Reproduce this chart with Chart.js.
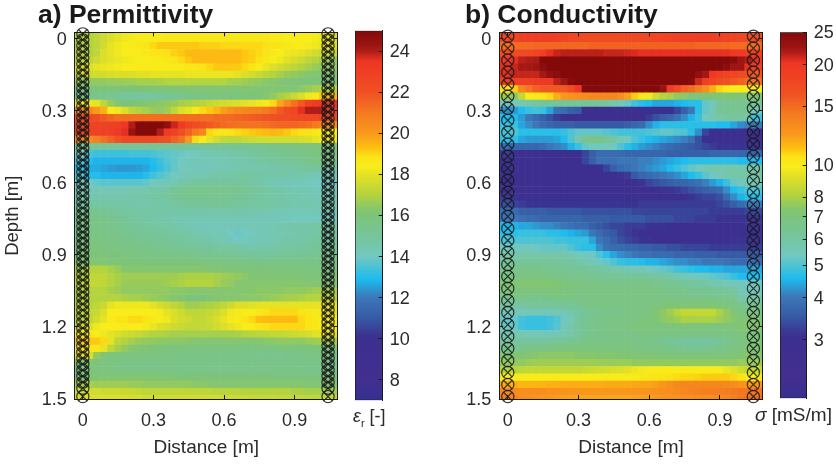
<!DOCTYPE html>
<html>
<head>
<meta charset="utf-8">
<script src="https://cdn.jsdelivr.net/npm/chart.js@4/dist/chart.umd.min.js"></script>
<style>
  html, body { margin: 0; padding: 0; background: #fff; }
  canvas { position: absolute; top: 0; }
  .barLabel { position: absolute; font: 18px "Liberation Sans", sans-serif; color: #2a2a2a; white-space: nowrap; }
  .barLabel sub { font-size: 11px; line-height: 0; }
</style>
</head>
<body>
<canvas id="permPanel" width="345" height="465" style="left:0;width:345px;height:465px"></canvas>
<canvas id="permBar" width="76" height="465" style="left:350px;width:76px;height:465px"></canvas>
<canvas id="condPanel" width="345" height="465" style="left:425px;width:345px;height:465px"></canvas>
<canvas id="condBar" width="61" height="465" style="left:775px;width:61px;height:465px"></canvas>
<div class="barLabel" style="left:353px;top:406px"><i>&epsilon;</i><sub>r</sub> [-]</div>
<div class="barLabel" style="left:755px;top:404px;font-size:19px"><i>&sigma;</i> [mS/m]</div>
<script>
// Cell centres of both sections, in metres. The first entry of each list is the
// partial cell above/left of the 0 line and repeats the values of the next one.
var distances = [-0.03, 0, 0.03, 0.06, 0.09, 0.12, 0.15, 0.18, 0.21, 0.24, 0.27, 0.3, 0.33, 0.36, 0.39, 0.42, 0.45, 0.48, 0.51, 0.54, 0.57, 0.6, 0.63, 0.66, 0.69, 0.72, 0.75, 0.78, 0.81, 0.84, 0.87, 0.9, 0.93, 0.96, 0.99, 1.02, 1.05, 1.08];
var depths = [-0.03, 0, 0.03, 0.06, 0.09, 0.12, 0.15, 0.18, 0.21, 0.24, 0.27, 0.3, 0.33, 0.36, 0.39, 0.42, 0.45, 0.48, 0.51, 0.54, 0.57, 0.6, 0.63, 0.66, 0.69, 0.72, 0.75, 0.78, 0.81, 0.84, 0.87, 0.9, 0.93, 0.96, 0.99, 1.02, 1.05, 1.08, 1.11, 1.14, 1.17, 1.2, 1.23, 1.26, 1.29, 1.32, 1.35, 1.38, 1.41, 1.44, 1.47, 1.5];

// Borehole antenna positions
var boreholeX = [0, 1.042];
var permMarkers = [-0.02, 0.005, 0.03, 0.055, 0.08, 0.105, 0.13, 0.155, 0.18, 0.205, 0.23, 0.255, 0.28, 0.305, 0.33, 0.355, 0.38, 0.405, 0.43, 0.455, 0.48, 0.505, 0.53, 0.555, 0.58, 0.605, 0.63, 0.655, 0.68, 0.705, 0.73, 0.755, 0.78, 0.805, 0.83, 0.855, 0.88, 0.905, 0.93, 0.955, 0.98, 1.005, 1.03, 1.055, 1.08, 1.105, 1.13, 1.155, 1.18, 1.205, 1.23, 1.255, 1.28, 1.305, 1.33, 1.355, 1.38, 1.405, 1.43, 1.455, 1.49];
var condMarkers = [-0.01, 0.04, 0.09, 0.14, 0.19, 0.24, 0.29, 0.34, 0.39, 0.44, 0.49, 0.54, 0.59, 0.64, 0.69, 0.74, 0.79, 0.84, 0.89, 0.94, 0.99, 1.04, 1.09, 1.14, 1.19, 1.24, 1.29, 1.34, 1.39, 1.44, 1.49];

// Tick labels
var distanceTicks = [0, 0.3, 0.6, 0.9];
var depthTicks = [0, 0.3, 0.6, 0.9, 1.2, 1.5];
var permBarTicks = [8, 10, 12, 14, 16, 18, 20, 22, 24];
var condBarTicks = [3, 4, 5, 6, 7, 8, 10, 15, 20, 25];

// Relative permittivity x10, one row per depth, one value per distance
var permRows = [
[170,170,172,175,178,180,182,183,184,184,185,185,186,186,186,186,186,186,186,186,186,186,186,186,186,186,186,185,185,184,184,184,184,183,182,180,178],
[170,170,172,176,180,182,184,185,186,187,190,192,192,192,192,192,192,191,191,191,190,190,190,190,190,190,189,188,187,186,185,184,183,182,181,180,178],
[170,170,172,178,180,182,184,185,185,186,187,188,189,191,192,194,194,194,194,194,194,194,194,192,191,190,188,186,184,182,181,180,178,176,175,174,174],
[172,172,175,178,180,181,182,183,184,184,185,185,186,187,190,192,194,194,194,194,194,194,194,192,191,189,186,184,182,179,177,175,172,170,168,166,165],
[178,178,180,181,182,183,184,184,185,185,185,185,185,185,185,186,186,188,190,192,192,192,192,190,187,184,181,178,176,174,172,170,168,166,165,165,165],
[175,175,176,176,177,178,178,178,179,179,180,180,180,180,180,181,181,181,181,181,181,181,180,178,176,174,172,170,168,166,165,164,163,162,162,161,161],
[165,165,165,165,166,166,167,167,168,168,168,169,170,170,170,170,170,170,170,170,170,168,168,167,166,165,164,163,162,161,160,160,160,160,160,160,160],
[160,160,160,160,160,160,160,160,160,160,161,161,161,161,161,162,162,162,162,162,162,162,162,162,162,162,162,162,162,162,162,164,166,168,170,170,170],
[155,155,154,153,152,150,149,148,148,148,148,149,150,152,153,155,156,156,157,158,158,159,159,160,160,161,163,165,168,170,174,178,182,186,192,195,195],
[182,182,180,172,166,162,160,160,161,162,163,164,165,166,168,169,170,171,173,175,176,177,178,179,180,182,186,190,198,205,212,218,228,232,235,235,235],
[205,205,200,196,185,182,178,172,170,168,166,165,167,172,178,180,183,190,192,195,199,203,205,206,207,208,210,213,218,223,226,236,240,240,240,235,230],
[225,225,222,218,215,213,213,213,213,213,213,213,213,213,213,213,213,213,213,214,214,214,215,216,217,218,219,220,221,222,223,224,225,226,228,226,224],
[228,228,228,228,229,230,234,240,250,250,250,250,246,238,232,226,222,220,218,216,214,213,212,212,212,212,213,214,215,215,215,214,213,210,208,205,205],
[228,228,228,229,230,233,236,243,250,250,250,240,232,228,222,216,210,206,190,187,187,188,190,191,192,193,194,195,194,192,190,189,188,186,185,185,185],
[205,205,208,212,216,220,224,225,225,225,225,222,220,216,212,200,190,184,180,176,173,172,172,174,175,176,176,176,176,176,176,177,178,180,182,182,182],
[152,152,150,150,150,150,150,150,150,150,150,150,150,150,150,150,150,150,151,151,151,152,152,152,153,153,154,155,156,156,157,158,158,158,158,158,158],
[140,135,133,133,133,133,133,134,134,134,135,136,137,138,139,140,141,142,143,144,145,146,147,148,149,150,151,152,153,154,155,156,157,158,158,158,158],
[135,130,128,128,128,128,128,128,128,128,130,133,136,138,140,141,142,142,143,143,144,144,145,145,146,147,148,149,150,151,152,153,154,155,155,155,155],
[130,127,127,126,125,124,124,124,125,126,129,132,135,138,140,141,142,142,142,143,144,144,145,145,145,145,145,146,146,147,148,148,149,150,150,150,150],
[135,130,130,128,128,128,128,128,128,130,134,136,138,140,141,142,143,144,145,146,146,147,147,148,148,147,147,146,146,146,145,145,144,143,143,143,143],
[140,140,138,137,137,137,137,137,137,138,140,141,142,144,146,148,149,149,150,150,150,150,150,149,147,146,145,144,143,142,142,141,141,140,140,140,140],
[143,143,143,143,143,143,144,144,144,145,146,146,148,150,152,153,154,154,154,154,154,154,153,152,150,149,148,147,146,145,144,144,143,142,142,142,142],
[145,145,145,145,145,145,145,146,146,146,147,148,149,151,152,153,153,153,153,153,153,152,151,150,149,148,147,146,146,145,145,144,144,143,143,143,143],
[148,148,148,148,147,147,146,146,145,145,146,146,147,148,149,150,150,150,151,151,151,150,149,149,148,148,147,147,146,146,145,145,145,144,144,144,144],
[152,152,152,151,150,149,148,148,147,147,147,147,147,147,146,146,146,146,146,146,146,146,146,146,145,145,145,144,144,143,143,143,143,143,143,143,143],
[156,156,156,155,154,152,150,149,148,147,146,145,145,144,144,144,144,144,144,144,144,143,143,143,143,142,142,142,141,141,140,140,140,141,141,141,141],
[155,155,155,155,154,153,152,151,150,149,148,148,147,146,145,144,143,142,142,142,142,142,142,142,143,143,144,144,145,145,146,146,147,147,148,148,148],
[156,156,156,155,155,154,153,152,151,151,150,149,149,148,147,146,145,144,144,143,142,140,139,140,141,142,143,144,144,145,145,146,146,147,148,148,148],
[158,158,158,157,157,156,155,155,154,153,152,152,151,150,149,148,147,146,146,145,144,142,140,141,142,143,144,144,145,146,146,147,148,149,150,150,150],
[158,158,158,158,157,157,156,156,155,155,154,153,153,152,152,151,151,150,150,149,148,148,147,146,145,146,146,147,147,148,148,149,149,150,150,150,150],
[160,160,160,160,159,159,158,158,157,157,156,156,156,155,155,155,154,154,153,153,152,152,151,151,150,150,150,150,150,151,151,151,152,152,152,152,152],
[162,162,162,162,161,161,160,160,160,159,159,159,159,159,159,159,159,158,158,158,158,157,157,156,156,156,156,156,156,156,156,156,156,156,156,156,156],
[168,170,170,170,168,166,163,163,163,163,163,163,163,163,163,163,163,163,162,162,161,161,161,160,160,160,160,160,159,159,159,159,158,158,158,158,158],
[170,172,172,172,170,168,167,167,167,167,167,167,167,167,168,169,169,169,169,168,167,166,165,164,162,162,161,161,161,161,161,160,160,160,160,160,160],
[172,173,173,172,170,168,166,166,166,166,166,166,167,168,169,170,170,170,170,168,166,165,163,163,163,163,163,163,163,163,163,163,162,162,162,162,162],
[170,170,170,170,168,167,165,165,165,165,165,165,165,164,164,163,163,163,163,163,163,163,163,163,163,164,164,164,164,165,165,165,166,167,168,168,168],
[170,170,170,170,170,170,169,168,168,167,166,165,164,163,162,160,160,160,161,162,163,163,163,164,164,164,165,166,167,168,168,169,170,170,170,170,170],
[170,170,172,174,180,182,182,182,182,182,180,177,175,172,170,167,167,168,169,170,172,175,178,178,179,180,180,180,180,180,180,180,180,180,180,180,180],
[172,173,174,178,184,184,184,184,184,184,184,183,180,178,175,172,172,172,173,175,178,182,183,184,184,186,188,190,190,190,190,188,186,183,182,180,180],
[172,173,176,180,185,187,188,190,190,188,186,185,182,178,176,175,173,173,175,177,180,183,185,188,190,193,194,194,194,194,194,190,188,186,185,185,185],
[176,178,182,184,184,184,184,184,184,183,181,178,177,175,174,173,173,173,174,176,178,180,182,184,185,187,189,190,190,190,190,190,188,186,185,185,185],
[186,187,185,182,180,178,176,175,174,172,170,170,169,168,168,168,168,168,168,168,168,168,169,170,171,172,172,173,173,174,175,176,177,179,180,180,180],
[192,192,192,190,180,172,170,168,166,165,165,164,164,164,164,163,163,163,163,163,163,163,163,163,163,163,164,164,165,165,165,165,166,167,168,168,168],
[187,187,187,180,172,168,165,163,162,161,160,160,159,159,159,158,158,158,158,158,158,157,157,157,157,157,157,157,158,158,158,159,159,160,160,160,160],
[180,178,165,162,160,160,159,159,158,158,158,158,157,157,157,157,156,156,156,156,156,156,155,155,155,154,154,154,154,155,155,155,156,157,157,157,157],
[162,162,160,158,157,156,156,155,155,155,155,155,155,155,155,155,155,155,155,155,155,155,155,155,155,155,155,155,155,155,155,155,155,155,155,155,155],
[160,160,159,158,158,157,157,157,156,156,156,156,156,156,156,156,156,156,156,156,156,156,156,156,156,156,156,155,155,155,155,155,155,155,155,155,155],
[160,160,161,162,162,162,162,162,162,162,162,162,161,161,160,160,160,160,160,160,160,160,160,160,160,160,160,159,159,159,159,159,159,159,159,159,159],
[168,168,167,167,167,167,167,166,166,165,165,165,165,165,165,165,164,164,163,163,163,163,163,163,163,163,163,163,163,163,163,163,162,162,162,162,162],
[176,176,176,175,175,175,174,174,173,172,172,172,172,172,172,172,172,172,172,171,171,171,171,170,170,170,170,170,170,170,169,169,168,168,168,168,168],
[178,178,178,178,178,178,178,177,177,176,176,176,176,176,176,176,176,176,176,176,175,175,175,175,174,174,174,174,173,173,173,173,172,172,172,172,172]
];

// Conductivity in mS/m x10, same grid
var condRows = [
[175,180,185,190,190,190,190,185,180,175,172,170,170,170,170,170,170,172,174,175,176,178,180,182,184,186,186,188,190,188,186,182,180,175,172,170,170],
[150,150,150,150,152,152,152,152,152,152,152,152,155,155,155,155,155,155,155,155,155,155,155,155,155,155,155,152,152,152,152,152,150,150,150,150,150],
[170,172,174,176,180,190,205,212,215,215,215,215,215,215,212,212,212,210,208,205,205,205,205,205,205,205,205,205,205,205,205,205,200,195,190,188,188],
[200,205,215,218,220,250,250,250,250,250,250,250,250,250,250,250,250,250,250,250,250,250,250,250,250,250,250,250,250,250,250,250,245,225,218,205,200],
[205,212,222,222,225,240,250,250,250,250,250,250,250,250,250,250,250,250,250,250,250,250,250,250,250,250,250,250,250,250,250,240,225,225,205,190,190],
[205,212,212,212,212,222,235,240,250,250,250,250,250,250,250,250,250,250,250,250,250,250,250,250,250,250,250,235,222,200,190,182,180,172,165,160,160],
[190,190,190,190,192,195,200,215,225,245,250,250,250,250,250,250,250,250,250,250,250,250,250,250,250,250,245,210,188,180,170,165,160,155,150,148,148],
[105,110,135,145,155,160,160,160,160,170,200,250,250,250,250,250,250,250,250,250,250,250,230,190,170,155,150,140,130,118,108,102,100,100,100,100,100],
[78,75,85,100,102,103,108,118,125,128,130,132,133,135,135,135,130,122,110,102,97,88,82,80,76,75,72,72,72,72,72,72,72,72,72,72,72],
[55,54,56,58,60,62,62,62,62,62,62,62,62,62,60,58,56,52,49,47,46,44,44,44,45,46,47,47,52,55,62,64,64,64,64,64,64],
[42,43,46,48,49,48,44,39,38,36,35,30,30,30,30,30,30,30,30,30,30,30,30,30,33,36,40,47,52,55,62,64,64,64,64,55,55],
[46,46,43,40,38,36,34,32,30,29,29,29,29,29,29,29,29,29,29,30,32,34,36,37,39,42,45,48,54,56,58,60,60,60,56,48,48],
[48,48,44,42,40,38,37,36,36,36,35,35,35,35,35,35,35,36,37,38,42,45,47,47,47,47,47,47,47,47,46,46,44,42,41,40,40],
[50,50,47,47,47,47,47,47,48,50,52,52,52,52,51,50,49,49,49,49,50,51,52,52,51,50,47,42,33,30,30,30,30,30,30,30,30],
[47,47,44,43,43,43,43,44,46,50,58,64,66,66,64,60,56,54,50,48,46,45,44,43,42,41,39,34,30,29,29,29,29,29,29,29,29],
[38,37,37,37,37,38,40,41,42,45,48,52,54,54,54,54,50,47,45,43,42,41,39,38,37,36,35,34,33,32,31,31,31,31,31,31,31],
[32,31,29,29,29,29,29,29,29,29,30,33,36,38,38,38,38,37,37,37,37,37,37,36,36,36,36,36,36,37,37,37,37,37,37,37,37],
[30,29,29,29,29,29,29,29,29,29,30,33,36,39,39,39,40,40,40,41,41,42,43,44,45,46,47,47,47,47,47,47,47,46,46,46,46],
[31,31,29,29,29,29,29,29,29,29,29,29,29,30,33,36,38,39,40,41,42,43,44,46,48,50,52,54,56,58,58,58,58,58,58,58,58],
[31,30,29,29,29,29,29,29,29,29,29,29,29,29,30,30,31,32,35,37,38,39,40,41,42,44,46,48,51,53,55,57,58,59,59,59,59],
[30,29,29,29,29,29,29,29,29,29,29,29,29,29,29,29,29,29,30,31,33,34,35,36,37,37,38,39,41,43,45,48,52,55,56,56,56],
[30,29,29,29,29,29,29,29,29,29,29,29,29,29,29,29,29,29,29,29,29,30,31,31,32,33,34,35,36,37,38,42,46,48,50,50,50],
[32,31,30,29,29,29,29,29,29,29,29,29,29,29,29,29,29,29,29,29,29,29,29,30,30,30,31,32,33,33,34,38,42,45,47,47,47],
[34,33,32,31,31,31,31,31,31,31,31,31,31,31,31,31,31,31,31,32,32,32,32,32,32,32,32,32,32,32,33,34,36,38,40,40,40],
[38,38,36,36,36,36,35,35,35,35,35,34,34,34,34,34,34,34,33,33,33,33,33,33,33,33,33,33,33,32,32,32,32,32,33,33,33],
[40,40,39,38,38,37,37,37,37,37,37,36,36,36,36,35,35,35,35,35,34,34,34,34,33,33,33,32,32,32,31,31,31,31,31,31,31],
[45,45,44,44,43,42,42,41,40,39,38,38,36,35,34,33,33,32,32,32,31,31,31,30,30,30,30,30,30,30,30,30,30,30,31,31,31],
[47,47,48,48,48,48,47,47,46,45,44,43,40,38,36,35,33,32,31,30,30,29,29,29,29,29,29,29,29,29,29,29,30,30,30,30,30],
[50,50,50,50,50,50,50,49,49,48,48,48,44,40,38,36,34,33,32,31,31,30,30,30,30,30,30,30,30,30,30,30,31,31,31,31,31],
[53,53,53,53,53,52,52,52,52,50,48,47,47,42,39,38,38,37,37,36,36,35,35,34,34,33,33,33,33,32,32,32,32,32,32,32,32],
[58,58,58,58,58,58,58,58,58,56,54,53,53,50,47,44,42,41,40,39,39,38,38,38,37,37,37,36,36,36,35,35,35,35,35,35,35],
[62,62,62,62,62,62,62,61,60,60,59,57,55,53,52,50,48,47,47,46,45,45,44,43,42,42,41,41,40,40,40,39,38,38,38,38,38],
[66,66,66,66,66,65,65,64,64,63,62,62,61,60,59,58,57,56,55,55,54,53,52,51,49,48,47,46,46,45,45,44,44,44,44,44,44],
[68,68,68,68,68,68,67,67,66,65,65,64,64,63,63,63,62,62,62,62,61,60,59,58,56,55,54,54,53,52,51,50,48,46,46,46,46],
[72,72,73,73,73,73,73,72,70,70,69,68,68,68,67,67,66,66,66,66,66,65,65,64,63,62,61,60,59,58,57,56,55,53,53,53,53],
[70,70,70,70,70,70,70,70,69,69,68,68,68,68,68,68,68,68,68,68,68,67,67,66,66,65,64,63,63,62,62,61,60,56,55,55,55],
[65,66,66,66,66,66,66,67,67,67,67,68,68,68,68,68,68,68,68,68,68,68,67,67,67,67,66,66,66,66,65,65,64,58,58,58,58],
[60,60,60,61,61,61,61,62,62,63,64,66,67,67,67,67,67,68,68,68,68,69,71,72,72,72,72,72,72,72,71,70,68,65,64,64,64],
[55,55,55,55,55,55,55,56,56,58,60,62,64,65,66,66,66,67,68,68,69,72,75,78,82,85,85,85,85,85,80,76,72,68,68,68,68],
[52,52,49,48,48,48,49,50,53,56,60,63,65,66,67,67,68,68,69,69,70,72,75,76,78,80,80,80,80,80,78,76,74,72,72,72,72],
[53,52,49,48,48,48,49,51,55,58,61,64,65,66,67,68,68,69,70,70,70,70,70,70,70,70,70,70,70,70,70,70,71,73,73,73,73],
[57,57,56,56,55,55,55,55,56,58,61,64,65,66,66,66,67,67,68,68,68,68,68,68,68,68,68,68,68,68,68,68,69,70,70,70,70],
[60,60,60,60,60,61,61,62,63,64,65,67,67,67,67,67,67,67,67,66,66,65,64,62,61,60,60,60,60,60,62,64,66,68,70,70,70],
[65,65,66,67,68,68,69,70,70,70,70,70,70,70,70,70,70,70,69,69,68,68,67,66,65,65,64,64,64,65,66,67,68,70,72,72,72],
[72,72,72,73,74,75,75,75,75,75,74,74,74,73,73,73,72,72,72,72,72,71,71,70,70,70,70,70,70,70,70,70,71,72,74,74,74],
[76,76,76,77,78,78,78,78,78,78,78,78,78,77,77,77,77,77,76,76,76,76,76,76,76,76,76,76,76,76,76,76,76,77,77,77,77],
[82,82,84,85,85,85,85,85,85,85,85,86,87,88,89,90,91,93,95,97,98,100,100,100,100,100,100,100,100,100,98,95,92,88,85,85,85],
[100,100,100,100,100,100,100,100,100,100,100,100,100,100,100,100,100,101,101,102,103,104,105,106,107,108,108,109,110,110,110,110,108,105,100,100,100],
[120,118,115,115,116,116,117,117,118,118,118,118,118,118,119,119,119,119,120,120,120,122,126,130,133,135,135,135,135,135,135,134,132,128,125,125,125],
[135,134,130,130,130,130,128,128,127,126,125,125,125,125,125,125,125,125,126,126,127,128,129,130,132,134,136,138,140,140,140,141,142,144,145,145,145],
[140,138,132,130,128,126,125,123,122,121,120,120,120,120,120,120,120,120,121,122,123,125,127,128,128,130,130,130,131,132,134,136,140,145,150,150,150]
];

// ---------- Color scale ----------
// position along the colour bar (0 bottom, 1 top) and colour
var cmapPos = [0, 0.056, 0.167, 0.189, 0.222, 0.278, 0.328, 0.389, 0.444, 0.5, 0.517, 0.556, 0.611, 0.633, 0.661, 0.683, 0.722, 0.778, 0.833, 0.917, 0.944, 0.961, 1];
var cmapCol = ['#34308f', '#432f90', '#3c2f8f', '#3a3d96', '#365aa5', '#3c78b8', '#1dbcee', '#73c8c0', '#76c59a', '#7dc47a', '#85c66e', '#b4d33e', '#e6e224', '#f8ed1b', '#fbe116', '#fdc010', '#f9991c', '#f47a20', '#ef5123', '#ee3524', '#b01e18', '#9a1413', '#840a0a'];

function hexRgb(h) {
  return [parseInt(h.substr(1, 2), 16), parseInt(h.substr(3, 2), 16), parseInt(h.substr(5, 2), 16)];
}

function cmap(t) {
  t = Math.max(0, Math.min(1, t));
  for (var k = 1; k < cmapPos.length; k++) {
    if (t <= cmapPos[k]) {
      var f = (t - cmapPos[k - 1]) / (cmapPos[k] - cmapPos[k - 1]);
      var a = hexRgb(cmapCol[k - 1]), b = hexRgb(cmapCol[k]);
      return 'rgb(' + Math.round(a[0] + (b[0] - a[0]) * f) + ',' + Math.round(a[1] + (b[1] - a[1]) * f) + ',' + Math.round(a[2] + (b[2] - a[2]) * f) + ')';
    }
  }
  return cmapCol[cmapCol.length - 1];
}

function permT(v) { return (v - 7) / 18; }
function condT(v) { return Math.log(v / 2) / Math.log(12.5); }

// ---------- Shared helpers ----------
var inkColor = '#2a2a2a';
var lineColor = '#1a1a1a';
var fontFamily = '"Liberation Sans", Arial, sans-serif';
Chart.defaults.font.family = fontFamily;
Chart.defaults.animation = false;

function setTicks(list) {
  return function (scale) { scale.ticks = list.map(function (v) { return { value: v }; }); };
}

function axisOpts(position, min, max, list, size) {
  return {
    type: 'linear', position: position, min: min, max: max,
    reverse: position === 'left' || position === 'right',
    afterBuildTicks: setTicks(list),
    afterFit: function (s) { if (position === 'left' || position === 'right') s.width = size; else s.height = size; },
    grid: { drawOnChartArea: false, drawTicks: true, tickLength: -4, color: lineColor, z: 1 },
    border: { display: true, color: lineColor, width: 1, z: 1 },
    ticks: { display: false }
  };
}

function labelled(axis, padding, labelOffset) {
  axis.ticks = {
    display: true, padding: padding, labelOffset: labelOffset, color: inkColor, z: 1, autoSkip: false, maxRotation: 0,
    font: { size: 18 },
    callback: function (v) { return String(v); }
  };
  return axis;
}

function heatPoints(rows, toT) {
  var pts = [], cols = [];
  depths.forEach(function (d, j) {
    var row = rows[Math.max(j - 1, 0)];
    distances.forEach(function (x, i) {
      pts.push({ x: x, y: d });
      cols.push(cmap(toT(row[Math.max(i - 1, 0)] / 10)));
    });
  });
  return { pts: pts, cols: cols };
}

function markerPoints(list) {
  var pts = [];
  boreholeX.forEach(function (x) {
    list.forEach(function (d) { pts.push({ x: x, y: d }); });
  });
  return pts;
}

function panel(id, titleText, rows, toT, markers, xMin, xMax, titleLeft, leftWidth, rightPad, yTitle) {
  var heat = heatPoints(rows, toT);
  var mk = markerPoints(markers);
  var yAxis = labelled(axisOpts('left', -0.026, 1.5, depthTicks, leftWidth), 12, 1.5);
  if (yTitle) {
    yAxis.title = { display: true, text: yTitle, color: inkColor, font: { size: 18.5 }, padding: { top: -36, bottom: 0 } };
  }
  var xAxis = labelled(axisOpts('bottom', xMin, xMax, distanceTicks, 66), 15, 0);
  xAxis.title = { display: true, text: 'Distance [m]', color: inkColor, font: { size: 19 }, padding: { top: 0, bottom: 6 } };
  return new Chart(document.getElementById(id), {
    type: 'scatter',
    data: {
      datasets: [
        { label: 'rings', data: mk, order: 1, clip: false, pointStyle: 'circle', pointRadius: 6.1, pointBorderWidth: 1.2, pointBorderColor: 'rgba(25,25,25,0.85)', pointBackgroundColor: 'rgba(0,0,0,0)' },
        { label: 'crosses', data: mk, order: 2, clip: false, pointStyle: 'crossRot', pointRadius: 6.1, pointBorderWidth: 1.2, pointBorderColor: 'rgba(25,25,25,0.85)' },
        { label: 'cells', data: heat.pts, order: 3, pointStyle: 'rect', pointRadius: 5.45, pointBorderWidth: 0, pointBackgroundColor: heat.cols }
      ]
    },
    options: {
      responsive: false,
      events: [],
      layout: { padding: { left: titleLeft, right: rightPad, top: 0, bottom: 0 } },
      plugins: {
        legend: { display: false },
        tooltip: { enabled: false },
        title: {
          display: true, text: titleText, align: 'start', color: '#1a1a1a',
          font: { size: 26.5, weight: 'bold', lineHeight: 1 },
          padding: { top: 2, bottom: 3.9 }
        }
      },
      scales: {
        x: xAxis,
        y: yAxis,
        xTop: axisOpts('top', xMin, xMax, distanceTicks, 0),
        yRight: axisOpts('right', -0.026, 1.5, depthTicks, 0)
      }
    }
  });
}

function colorBar(id, scaleType, min, max, list, fitWidth, top, bottom) {
  return new Chart(document.getElementById(id), {
    type: 'bar',
    data: {
      labels: [''],
      datasets: [{
        data: [[min, max]],
        barPercentage: 1, categoryPercentage: 1,
        borderWidth: 1, borderColor: lineColor, borderSkipped: false,
        backgroundColor: function (ctx) {
          var area = ctx.chart.chartArea;
          if (!area) return cmapCol[0];
          var g = ctx.chart.ctx.createLinearGradient(0, area.bottom, 0, area.top);
          cmapPos.forEach(function (p, k) { g.addColorStop(p, cmapCol[k]); });
          return g;
        }
      }]
    },
    options: {
      responsive: false,
      events: [],
      layout: { padding: { left: 5, right: 0, top: top, bottom: bottom } },
      plugins: { legend: { display: false }, tooltip: { enabled: false } },
      scales: {
        x: { display: false, offset: true },
        y: {
          type: scaleType, position: 'right', min: min, max: max,
          afterBuildTicks: setTicks(list),
          afterFit: function (s) { s.width = fitWidth; },
          grid: { drawOnChartArea: false, drawTicks: true, tickLength: -4, color: lineColor, z: 1 },
          border: { display: true, color: lineColor, z: 1 },
          ticks: { padding: 11, labelOffset: 1, color: inkColor, font: { size: 18 }, autoSkip: false, z: 1, callback: function (v) { return String(v); } }
        }
      }
    }
  });
}

panel('permPanel', 'a) Permittivity', permRows, permT, permMarkers, -0.0345, 1.083, 38, 36.7, 4.3, 'Depth [m]');
panel('condPanel', 'b) Conductivity', condRows, condT, condMarkers, -0.036, 1.0815, 40, 34.3, 4.7, null);
colorBar('permBar', 'linear', 7, 25, permBarTicks, 43.3, 30.7, 64.7);
colorBar('condBar', 'logarithmic', 2, 25, condBarTicks, 29.3, 32.3, 66.7);
</script>
</body>
</html>
